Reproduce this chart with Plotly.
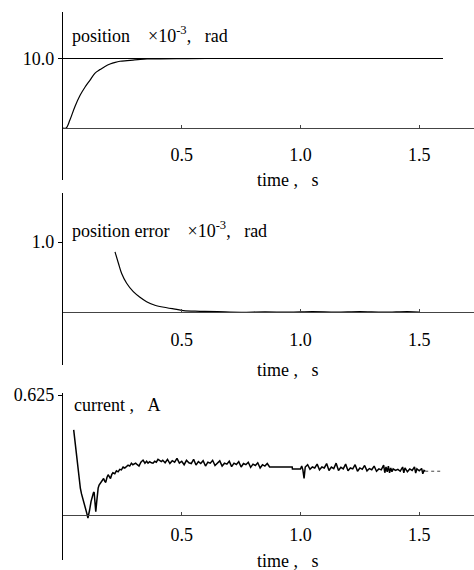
import plotly.graph_objects as go

W, H = 474, 570
FONT = "Liberation Serif"

# ---------------- data ----------------
pos_t = [0.0, 0.013, 0.029, 0.05, 0.072, 0.093, 0.114, 0.135, 0.156, 0.177, 0.198, 0.22, 0.24, 0.27, 0.295, 0.325, 0.354, 0.41, 0.5, 0.6, 0.8, 1.0, 1.2, 1.4, 1.6]
pos_v = [0.0, 0.0, 1.14, 3.06, 4.7, 5.9, 6.9, 7.9, 8.4, 8.85, 9.2, 9.45, 9.6, 9.7, 9.78, 9.87, 9.93, 9.96, 9.99, 10.0, 10.0, 10.0, 10.0, 10.0, 10.0]
ref_t = [0.0, 1.6]
ref_v = [10.0, 10.0]

err_t = [0.219, 0.233, 0.247, 0.268, 0.296, 0.324, 0.352, 0.387, 0.437, 0.479, 0.507, 0.577, 0.65, 0.75, 0.85, 0.95, 1.05, 1.15, 1.25, 1.35, 1.45, 1.5]
err_v = [0.86, 0.70, 0.55, 0.41, 0.29, 0.21, 0.147, 0.096, 0.061, 0.038, 0.019, 0.01, 0.004, -0.004, 0.003, -0.003, 0.004, -0.002, 0.005, -0.003, 0.006, 0.0]

cur_t = [0.045, 0.053, 0.059, 0.066, 0.073, 0.078, 0.084, 0.090, 0.095, 0.100, 0.105, 0.109, 0.112, 0.118, 0.124, 0.128, 0.131, 0.135, 0.138, 0.142,
         0.145, 0.148, 0.152, 0.157, 0.161, 0.166, 0.171, 0.176, 0.180, 0.185, 0.190, 0.195, 0.200, 0.205, 0.210, 0.218, 0.225, 0.232, 0.239, 0.246,
         0.253, 0.260, 0.267, 0.274, 0.281, 0.288, 0.294, 0.300, 0.306, 0.313, 0.320, 0.328, 0.337, 0.345, 0.352, 0.358, 0.365, 0.372, 0.379, 0.386,
         0.393, 0.400, 0.407, 0.414,
         0.42, 0.43, 0.44, 0.45, 0.46, 0.47, 0.48, 0.49, 0.50, 0.51, 0.52, 0.53, 0.54, 0.55, 0.56, 0.57, 0.58, 0.59, 0.60, 0.61,
         0.62, 0.63, 0.64, 0.65, 0.66, 0.67, 0.68, 0.69, 0.70, 0.71, 0.72, 0.73, 0.74, 0.75, 0.76, 0.77, 0.78, 0.79, 0.80, 0.81,
         0.82, 0.83, 0.84, 0.85, 0.86, 0.87, 0.88, 0.965, 0.966, 1.0, 1.005, 1.01, 1.015, 1.02, 1.03, 1.04, 1.05, 1.06, 1.07, 1.08,
         1.09, 1.10, 1.11, 1.12, 1.13, 1.14, 1.15, 1.16, 1.17, 1.18, 1.19, 1.20, 1.21, 1.22, 1.23, 1.24, 1.25, 1.26, 1.27, 1.28,
         1.29, 1.30, 1.31, 1.32, 1.33, 1.34, 1.35, 1.355, 1.36, 1.365, 1.37, 1.375, 1.38, 1.385, 1.39, 1.40, 1.41, 1.42, 1.43, 1.435,
         1.44, 1.45, 1.46, 1.47, 1.48, 1.485, 1.49, 1.50, 1.51, 1.515, 1.52, 1.525]
cur_v = [0.443, 0.356, 0.27, 0.19, 0.14, 0.11, 0.078, 0.05, 0.03, 0.01, -0.016, 0.005, 0.026, 0.07, 0.104, 0.115, 0.12, 0.06, 0.017, 0.07,
         0.114, 0.14, 0.156, 0.165, 0.17, 0.18, 0.19, 0.175, 0.17, 0.195, 0.21, 0.2, 0.19, 0.21, 0.22, 0.215, 0.23, 0.225, 0.238, 0.235,
         0.25, 0.245, 0.255, 0.26, 0.255, 0.27, 0.262, 0.265, 0.27, 0.262, 0.255, 0.275, 0.286, 0.27, 0.28, 0.27, 0.278, 0.272, 0.27, 0.28,
         0.275, 0.29, 0.282, 0.278,
         0.285, 0.272, 0.29, 0.268, 0.283, 0.275, 0.295, 0.27, 0.28, 0.262, 0.285, 0.272, 0.268, 0.29, 0.26, 0.278, 0.268, 0.283, 0.255, 0.275,
         0.27, 0.285, 0.258, 0.272, 0.282, 0.255, 0.27, 0.265, 0.28, 0.252, 0.27, 0.263, 0.278, 0.25, 0.268, 0.262, 0.275, 0.248, 0.265, 0.258,
         0.272, 0.245, 0.262, 0.255, 0.268, 0.25, 0.25, 0.25, 0.24, 0.24, 0.255, 0.235, 0.19, 0.25, 0.262, 0.238, 0.25, 0.245, 0.265, 0.235,
         0.25, 0.245, 0.268, 0.232, 0.25, 0.242, 0.27, 0.232, 0.248, 0.24, 0.265, 0.23, 0.245, 0.24, 0.262, 0.228, 0.245, 0.238, 0.258, 0.23,
         0.242, 0.236, 0.255, 0.228, 0.24, 0.235, 0.26, 0.22, 0.25, 0.225, 0.255, 0.22, 0.245, 0.225, 0.24, 0.232, 0.238, 0.228, 0.25, 0.22,
         0.245, 0.225, 0.24, 0.232, 0.25, 0.218, 0.24, 0.23, 0.242, 0.215, 0.232, 0.228]
tail_t = [1.525, 1.6]
tail_v = [0.228, 0.228]

x_ticks = [0.5, 1.0, 1.5]
x_ticktext = ["0.5", "1.0", "1.5"]
titles = ["position&nbsp;&nbsp;&nbsp;&nbsp;×10<sup>-3</sup>,&nbsp;&nbsp;&nbsp;rad",
          "position error&nbsp;&nbsp;&nbsp;&nbsp;×10<sup>-3</sup>,&nbsp;&nbsp;&nbsp;rad",
          "current&nbsp;,&nbsp;&nbsp;&nbsp;A"]
y_tick = [10.0, 1.0, 0.625]
y_ticktext = ["10.0", "1.0", "0.625"]
xlabel = "time&nbsp;,&nbsp;&nbsp;&nbsp;s"

# ---------------- layout geometry (pixels) ----------------
x0_px = 63
px_per_s = 237.5
xr = [0, (W - x0_px) / px_per_s]
# panel: (top px, bottom px, zero px, tick px, x-label standoff)
panels = [(12, 180, 128, 58.5, 10), (193, 365, 312, 242, 11), (393, 560, 515, 395, 3)]

def fy(p):
    return 1 - p / H

fig = go.Figure()
line = dict(color="black", width=1.2)
fig.add_trace(go.Scatter(x=ref_t, y=ref_v, mode="lines", line=dict(color="black", width=1.2), xaxis="x", yaxis="y"))
fig.add_trace(go.Scatter(x=pos_t, y=pos_v, mode="lines", line=line, line_shape="spline", xaxis="x", yaxis="y"))
fig.add_trace(go.Scatter(x=err_t, y=err_v, mode="lines", line=line, line_shape="spline", xaxis="x2", yaxis="y2"))
fig.add_trace(go.Scatter(x=cur_t, y=cur_v, mode="lines", line=dict(color="black", width=1.5), xaxis="x3", yaxis="y3"))
fig.add_trace(go.Scatter(x=tail_t, y=tail_v, mode="lines", line=dict(color="#444", width=1, dash="dot"), xaxis="x3", yaxis="y3"))

FS = 18
layout = dict(width=W, height=H, margin=dict(l=0, r=0, t=0, b=0, pad=0, autoexpand=False),
              paper_bgcolor="white", plot_bgcolor="white", showlegend=False,
              font=dict(family=FONT, size=FS, color="black"))
annotations = []
for i, (top, bot, zero, tk, so) in enumerate(panels):
    n = "" if i == 0 else str(i + 1)
    ppu = (zero - tk) / y_tick[i]
    yr = [-(bot - zero) / ppu, (zero - top) / ppu]
    layout["yaxis" + n] = dict(domain=[fy(bot), fy(top)], range=yr, anchor="x" + n,
                               showline=True, linecolor="black", linewidth=1.2,
                               showgrid=False, zeroline=False, automargin=False,
                               tickvals=[y_tick[i]], ticktext=[y_ticktext[i]],
                               ticks="outside", ticklen=4, tickcolor="black",
                               tickfont=dict(family=FONT, size=FS), fixedrange=True)
    layout["xaxis" + n] = dict(domain=[x0_px / W, 1], range=xr, anchor="free",
                               position=fy(zero), showline=True, linecolor="#444", linewidth=1,
                               showgrid=False, zeroline=False, automargin=False,
                               tickvals=x_ticks, ticktext=x_ticktext,
                               ticks="inside", ticklen=3, tickcolor="#444",
                               ticklabelstandoff=so,
                               tickfont=dict(family=FONT, size=FS), fixedrange=True)
    title_y = [35, 229, 405][i]
    annotations.append(dict(text=titles[i], xref="paper", yref="paper",
                            x=(70 if i < 2 else 72) / W, y=fy(title_y), xanchor="left", yanchor="middle",
                            showarrow=False, font=dict(family=FONT, size=FS)))
    lab_y = [180, 370, 561][i]
    annotations.append(dict(text=xlabel, xref="paper", yref="paper",
                            x=288 / W, y=fy(lab_y), xanchor="center", yanchor="middle",
                            showarrow=False, font=dict(family=FONT, size=FS)))
layout["annotations"] = annotations
fig.update_layout(**layout)
fig.write_html("out.html", config={"displayModeBar": False},
               post_script="document.body.style.margin='0px';document.body.style.overflow='hidden';")
